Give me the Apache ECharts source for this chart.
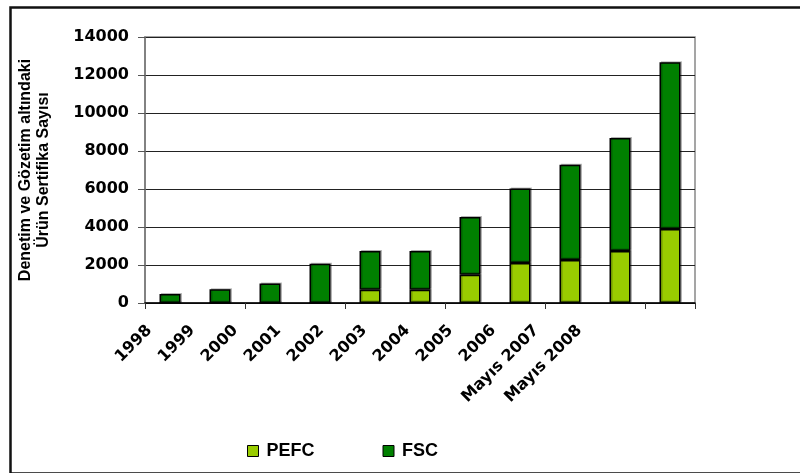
<!DOCTYPE html>
<html>
<head>
<meta charset="utf-8">
<script src="https://cdn.jsdelivr.net/npm/echarts@6/dist/echarts.min.js"></script>
<style>
  html, body { margin: 0; padding: 0; background: #fff; }
  #chart { width: 800px; height: 473px; }
</style>
</head>
<body>
<div id="chart"></div>
<script>
  // data
  var years = ['1998', '1999', '2000', '2001', '2002', '2003', '2004', '2005', '2006', 'Mayıs 2007', 'Mayıs 2008']
  var pefc = [0, 0, 0, 0, 700, 700, 1490, 2100, 2260, 2740, 3900]
  var fsc = [470, 720, 1020, 2060, 2040, 2040, 3040, 3920, 5010, 5950, 8770]
  var yTicks = [0, 2000, 4000, 6000, 8000, 10000, 12000, 14000]

  var chart = echarts.init(document.getElementById('chart'), null, { renderer: 'canvas' })

  var barStyle = function (color) {
    return {
      color: color,
      borderColor: '#000',
      borderWidth: 1.5,
      shadowColor: 'rgba(0,0,0,0.25)',
      shadowOffsetX: 1.5,
      shadowOffsetY: -1
    }
  }

  var option = {
    animation: false,
    textStyle: { fontFamily: '"DejaVu Sans", sans-serif' },
    graphic: [
      {
        type: 'rect',
        left: 8,
        top: 5,
        shape: { width: 800, height: 466 },
        style: { fill: 'none', stroke: '#111', lineWidth: 2.5 },
        silent: true
      }
    ],
    legend: {
      left: 242,
      top: 437,
      itemWidth: 11,
      itemHeight: 11,
      itemGap: 68,
      icon: 'rect',
      data: ['PEFC', 'FSC'],
      textStyle: {
        fontFamily: '"Liberation Sans", Arial, sans-serif',
        fontWeight: 'bold',
        fontSize: 18,
        color: '#000',
        padding: [0, 0, 0, 3]
      },
      itemStyle: { borderColor: '#000', borderWidth: 1 }
    },
    grid: [
      {
        left: 145,
        right: 105,
        top: 37,
        bottom: 170,
        show: true,
        borderColor: '#888',
        borderWidth: 1.5
      },
      // the category labels in the original are packed tighter than the bars
      {
        left: 145,
        width: 473,
        top: 37,
        bottom: 170
      }
    ],
    xAxis: [
      {
        type: 'category',
        gridIndex: 0,
        data: years,
        axisLine: { lineStyle: { color: '#000', width: 1.5 } },
        axisTick: { show: true, length: 6, lineStyle: { color: '#333' } },
        axisLabel: { show: false }
      },
      {
        type: 'category',
        gridIndex: 1,
        data: years,
        axisLine: { show: false },
        axisTick: { show: false },
        axisLabel: {
          rotate: 45,
          interval: 0,
          margin: 8,
          padding: [0, 24, 0, 0],
          fontSize: 16,
          fontWeight: 'bold',
          color: '#000'
        }
      }
    ],
    yAxis: [
      {
        type: 'value',
        gridIndex: 0,
        min: 0,
        max: yTicks[yTicks.length - 1],
        interval: yTicks[1] - yTicks[0],
        name: 'Denetim ve Gözetim altındaki\nÜrün Sertifika Sayısı',
        nameLocation: 'middle',
        nameRotate: 90,
        nameGap: 92,
        nameTextStyle: {
          fontFamily: '"Liberation Sans", Arial, sans-serif',
          fontWeight: 'bold',
          fontSize: 16,
          lineHeight: 18,
          color: '#000'
        },
        axisLine: { show: true, lineStyle: { color: '#777', width: 1.5 } },
        axisTick: { show: true, inside: false, length: 7, lineStyle: { color: '#555' } },
        axisLabel: {
          margin: 16,
          fontSize: 16,
          fontWeight: 'bold',
          color: '#000',
          formatter: function (v) { return String(v) }
        },
        splitLine: { lineStyle: { color: '#222', width: 1.2 } }
      },
      {
        type: 'value',
        gridIndex: 1,
        show: false,
        splitLine: { show: false }
      }
    ],
    series: [
      {
        name: 'PEFC',
        type: 'bar',
        stack: 'total',
        barWidth: '42%',
        itemStyle: barStyle('#99cc00'),
        data: pefc
      },
      {
        name: 'FSC',
        type: 'bar',
        stack: 'total',
        barWidth: '42%',
        itemStyle: barStyle('#008000'),
        data: fsc
      }
    ]
  }

  chart.setOption(option)
</script>
</body>
</html>
